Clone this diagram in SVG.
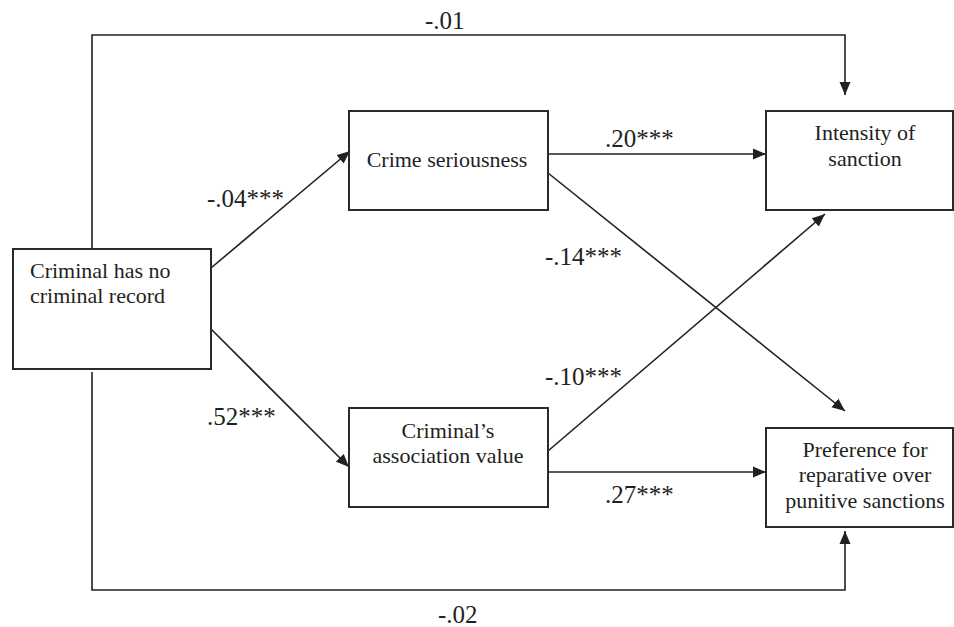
<svg xmlns="http://www.w3.org/2000/svg" width="954" height="627" viewBox="0 0 954 627">
<style>
.box{fill:#fff;stroke:#2a2a2a;stroke-width:2}
.t{font-family:"Liberation Serif","Times New Roman",serif;font-size:22px;fill:#231f20}
.lb{font-family:"Liberation Serif","Times New Roman",serif;font-size:25px;fill:#231f20}
.c{text-anchor:middle}
.ln{fill:none;stroke:#231f20;stroke-width:1.6}
</style>
<defs>
<marker id="ah" markerUnits="userSpaceOnUse" markerWidth="14" markerHeight="12" refX="13" refY="6" orient="auto">
<path d="M0,0.5 L13,6 L0,11.5 z" fill="#231f20"/>
</marker>
</defs>
<rect width="954" height="627" fill="#fff"/>
<g id="connectors">
<path class="ln" d="M92,249 V35 H845 V95" marker-end="url(#ah)"/>
<path class="ln" d="M211,268 L350,151" marker-end="url(#ah)"/>
<path class="ln" d="M548,154 H766" marker-end="url(#ah)"/>
<path class="ln" d="M548,173 L845,411" marker-end="url(#ah)"/>
<path class="ln" d="M548,451 L825,214" marker-end="url(#ah)"/>
<path class="ln" d="M548,472 H766" marker-end="url(#ah)"/>
<path class="ln" d="M211,329 L349,467" marker-end="url(#ah)"/>
<path class="ln" d="M92,372 V590 H845 V531" marker-end="url(#ah)"/>
</g>
<g id="labels" class="lb">
<text x="425" y="29">-.01</text>
<text x="207" y="207">-.04***</text>
<text x="605" y="147">.20***</text>
<text x="545" y="265">-.14***</text>
<text x="545" y="385">-.10***</text>
<text x="207" y="425">.52***</text>
<text x="605" y="503">.27***</text>
<text x="438" y="623">-.02</text>
</g>
<g id="node-record">
<rect class="box" x="13" y="249" width="198" height="120"/>
<text class="t" x="30" y="278">Criminal has no</text>
<text class="t" x="30" y="303">criminal record</text>
</g>
<g id="node-seriousness">
<rect class="box" x="349" y="111" width="199" height="99"/>
<text class="t c" x="447" y="167">Crime seriousness</text>
</g>
<g id="node-association">
<rect class="box" x="349" y="408" width="199" height="99"/>
<text class="t c" x="448" y="438">Criminal’s</text>
<text class="t c" x="448" y="463">association value</text>
</g>
<g id="node-intensity">
<rect class="box" x="766" y="111" width="187" height="99"/>
<text class="t c" x="865" y="140">Intensity of</text>
<text class="t c" x="865" y="166">sanction</text>
</g>
<g id="node-preference">
<rect class="box" x="766" y="428" width="187" height="99"/>
<text class="t c" x="865" y="457">Preference for</text>
<text class="t c" x="865" y="482">reparative over</text>
<text class="t c" x="865" y="508">punitive sanctions</text>
</g>
</svg>
